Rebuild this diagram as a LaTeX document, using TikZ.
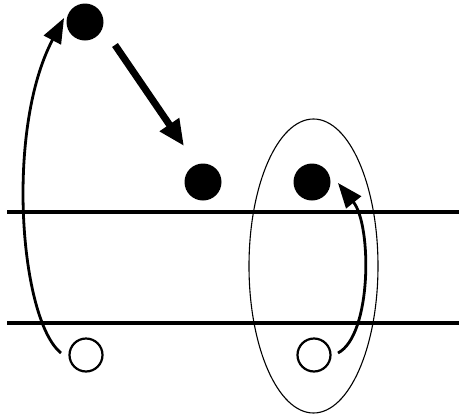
\documentclass[tikz,border=0pt]{standalone}
\usetikzlibrary{arrows.meta}
\begin{document}
\begin{tikzpicture}[x=1pt,y=-1pt,
  full/.style={circle,fill=black,minimum size=37pt,inner sep=0pt},
  hollow/.style={circle,draw=black,line width=2.2pt,minimum size=33pt,inner sep=0pt},
  rail/.style={line width=3.2pt},
  curvearrow/.style={line width=2.8pt,-{Triangle[length=25pt,width=19pt]}},
  bigarrow/.style={line width=7pt,-{Triangle[length=26pt,width=22pt]}}]
\useasboundingbox (0,0) rectangle (459,416);
\draw[rail] (7,212) -- (459,212);
\draw[rail] (7,323) -- (459,323);
\draw[line width=1.1pt] (313.5,266) ellipse [x radius=64.5, y radius=147];
\node[full] (a) at (85,22) {};
\node[full] (b) at (203,182) {};
\node[full] (c) at (312,182) {};
\node[hollow] (d) at (86,355) {};
\node[hollow] (e) at (314,355) {};
\coordinate (s1) at (115,45);
\coordinate (t1) at (184,146);
\draw[bigarrow] (s1) -- (t1);
\coordinate (s2) at (61,353);
\coordinate (t2) at (64,18);
\draw[curvearrow] (s2) .. controls (20,320) and (5,130) .. (t2);
\coordinate (s3) at (338,353);
\coordinate (t3) at (338,183);
\draw[curvearrow] (s3) .. controls (372,335) and (372,225) .. (t3);
\end{tikzpicture}
\end{document}
